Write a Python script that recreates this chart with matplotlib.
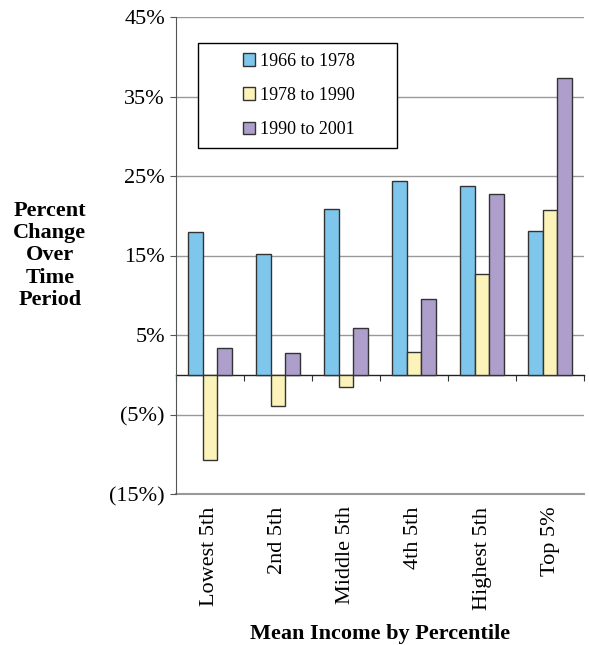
import numpy as np
import matplotlib.pyplot as plt
from matplotlib.patches import Rectangle

plt.rcParams['font.family'] = ['Liberation Serif', 'DejaVu Serif']

# 数据
categories = ["Lowest 5th", "2nd 5th", "Middle 5th", "4th 5th", "Highest 5th", "Top 5%"]
p1966_1978 = [17.9, 15.2, 20.9, 24.4, 23.7, 18.1]
p1978_1990 = [-10.7, -3.9, -1.5, 2.9, 12.7, 20.7]
p1990_2001 = [3.4, 2.7, 5.9, 9.5, 22.7, 37.3]
series_names = ["1966 to 1978", "1978 to 1990", "1990 to 2001"]
yticks = [-15, -5, 5, 15, 25, 35, 45]
ytick_labels = ["(15%)", "(5%)", "5%", "15%", "25%", "35%", "45%"]

colors = ["#7EC6EC", "#FBF3B9", "#AE9ECC"]
edge = "#333333"

fig = plt.figure(figsize=(5.89, 6.45), dpi=100)
ax = fig.add_axes([176/589, 151/645, 408/589, 477/645])

x = np.arange(len(categories))
w = 0.22
for k, vals in enumerate([p1966_1978, p1978_1990, p1990_2001]):
    ax.bar(x + (k - 1) * w, vals, width=w, color=colors[k], edgecolor=edge,
           linewidth=1.0, label=series_names[k], zorder=3)

ax.set_xlim(-0.5, 5.5)
ax.set_ylim(-15, 45)
ax.set_yticks(yticks)
ax.set_yticklabels(ytick_labels, fontsize=16)
ax.yaxis.grid(True, color="#999999", linewidth=1.0, zorder=0)
ax.axhline(-15, color="#999999", linewidth=1.5, clip_on=False, zorder=0)
ax.tick_params(axis='y', direction='out', length=4, color="#555555", pad=4)

ax.set_xticks(x)
ax.set_xticklabels(categories, rotation=90, fontsize=16)
ax.tick_params(axis='x', length=0, pad=9)

for s in ["top", "right", "bottom"]:
    ax.spines[s].set_visible(False)
ax.spines["left"].set_color("#555555")

# zero line with boundary ticks
sec = ax.secondary_xaxis(0.25)
sec.set_xticks(np.arange(-0.5, 6, 1.0))
sec.set_xticklabels([])
sec.tick_params(direction='out', length=4, color="#333333")
sec.spines["bottom"].set_color("#222222")
sec.spines["bottom"].set_linewidth(1.0)

ax.set_ylabel("Percent\nChange\nOver\nTime\nPeriod", rotation=0, fontsize=16,
              fontweight="bold", ha="center", va="center", linespacing=1.15)
ax.yaxis.set_label_coords(-0.309, 0.5)
ax.set_xlabel("Mean Income by Percentile", fontsize=16, fontweight="bold", va="center")
ax.xaxis.set_label_coords(0.5, -0.293)

# legend box
ax.add_patch(Rectangle((0.054, 0.725), 0.488, 0.22, transform=ax.transAxes,
                       facecolor="white", edgecolor="black", linewidth=1.0, zorder=4))
ax.legend(loc="upper left", bbox_to_anchor=(0.128, 0.955), frameon=False, fontsize=13,
          handlelength=0.7, handleheight=0.7, handletextpad=0.25, labelspacing=0.95,
          borderpad=0.3).set_zorder(5)

plt.savefig("out.png", dpi=100)
